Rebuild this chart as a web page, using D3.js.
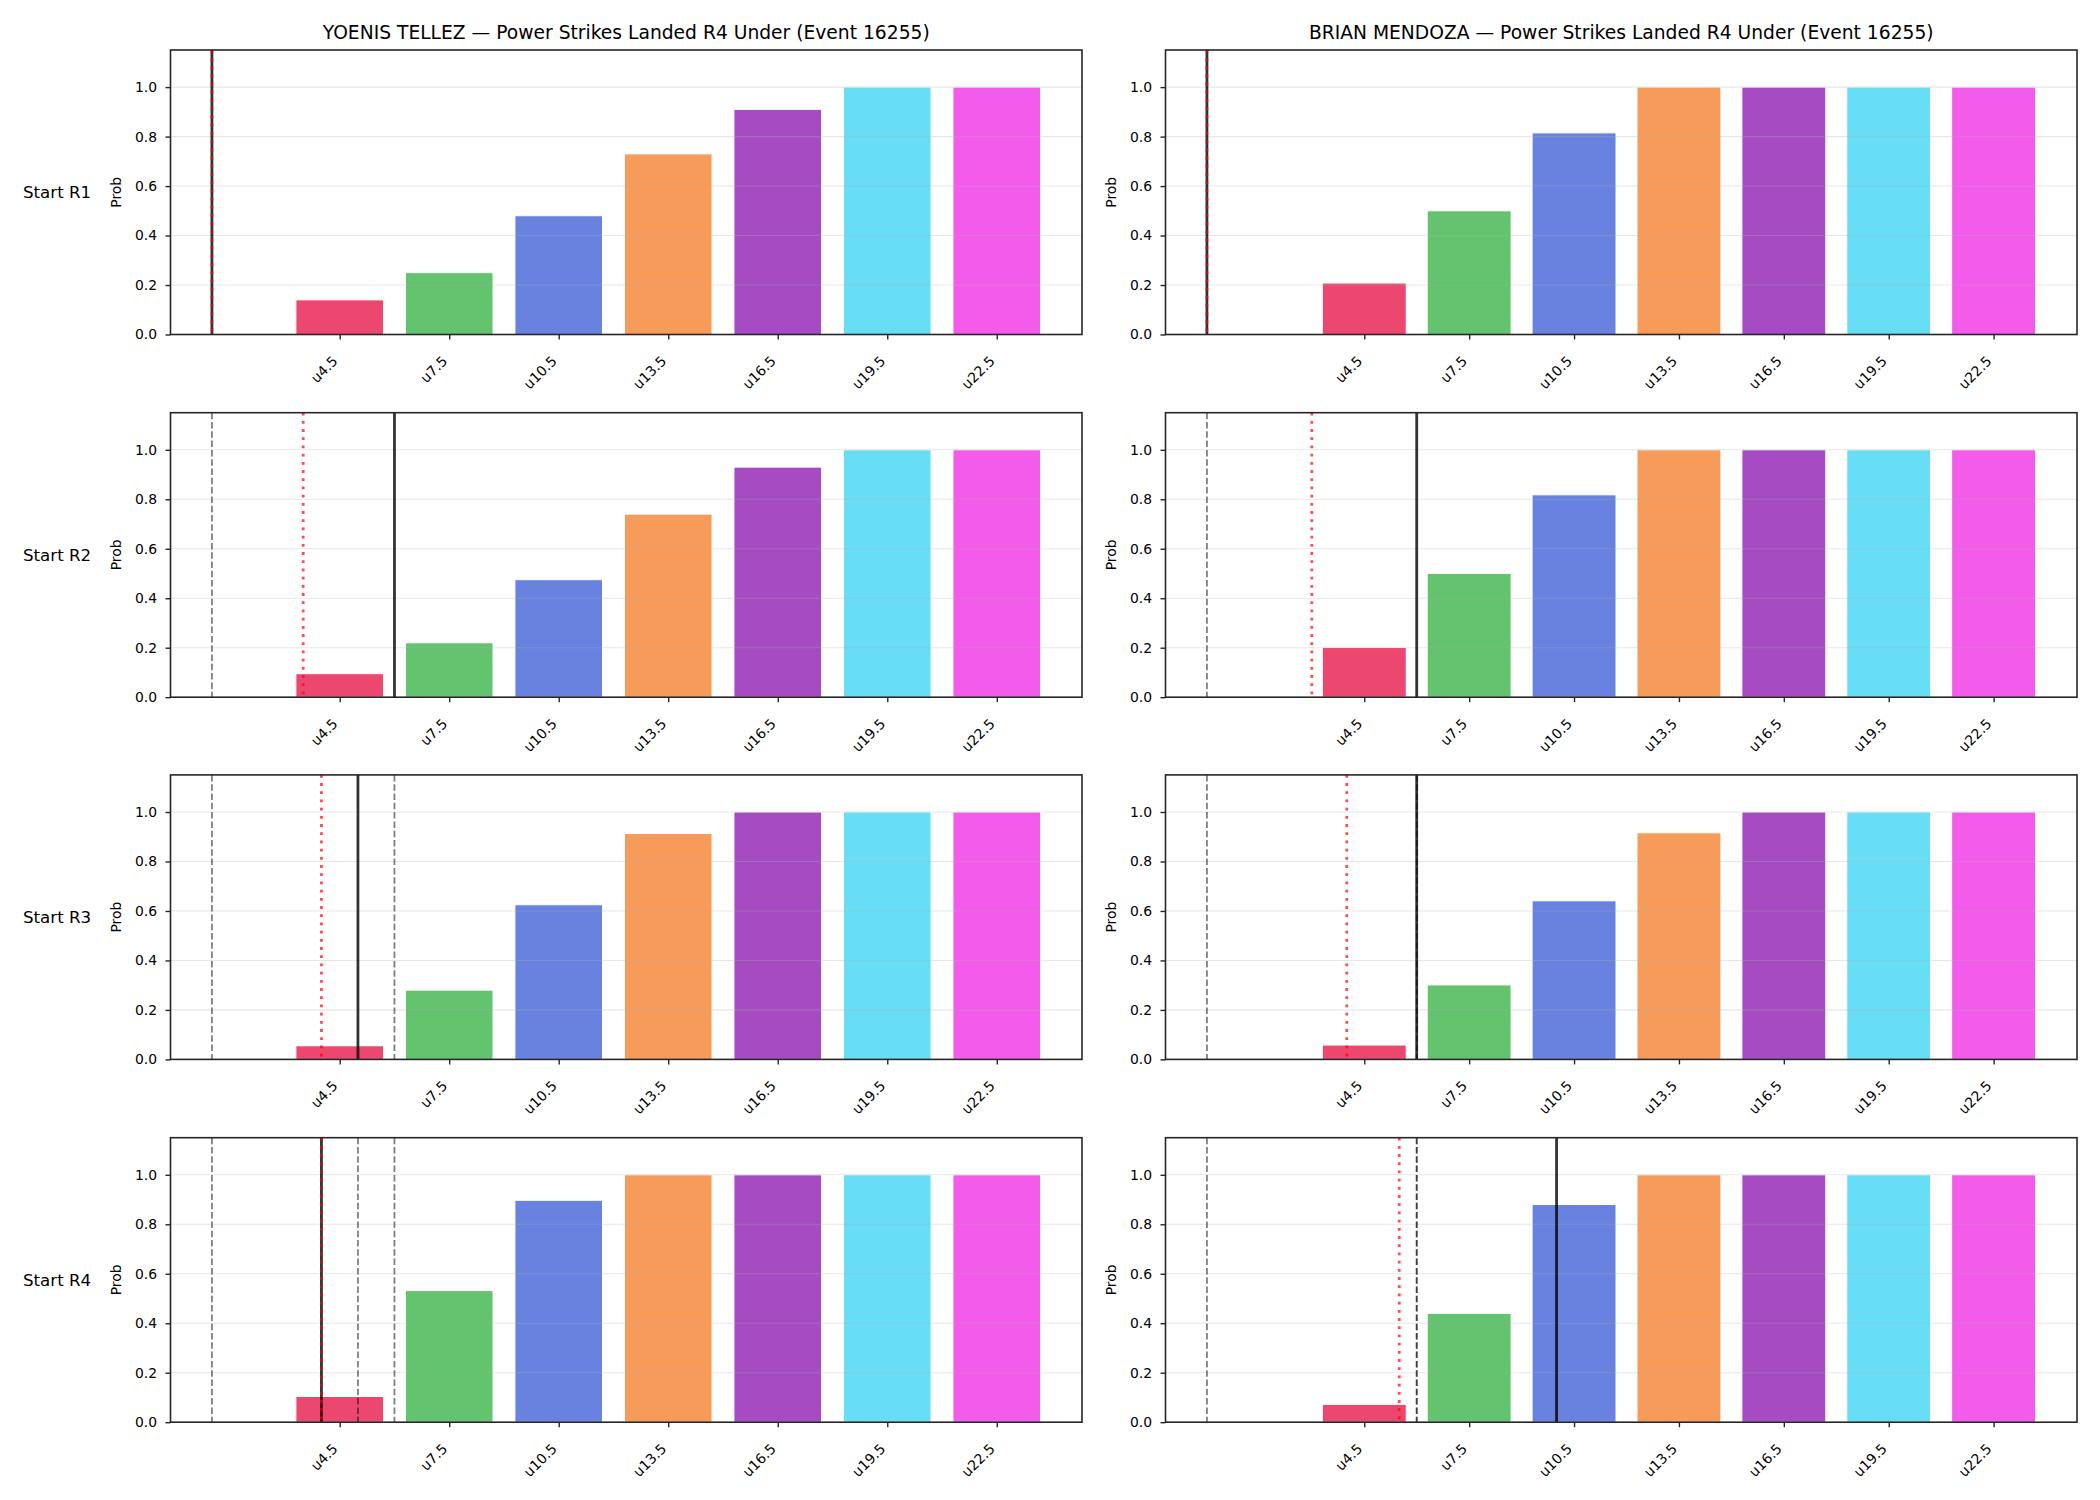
<!DOCTYPE html>
<html>
<head>
<meta charset="utf-8">
<script src="https://cdn.jsdelivr.net/npm/d3@7/dist/d3.min.js"></script>
<style>
  body { margin: 0; background: #fff; }
  text { font-family: "DejaVu Sans", sans-serif; fill: #000; }
</style>
</head>
<body>
<svg id="chart" width="2100" height="1500"></svg>
<script>
// thresholds (bar centres) and their labels
const thresholds = [4.5, 7.5, 10.5, 13.5, 16.5, 19.5, 22.5];
const tickLabels = ["u4.5", "u7.5", "u10.5", "u13.5", "u16.5", "u19.5", "u22.5"];
const barColors = ["#e6194b", "#3cb44b", "#4363d8", "#f58231", "#911eb4", "#42d4f4", "#f032e6"];

const fighters = ["YOENIS TELLEZ", "BRIAN MENDOZA"];
const rounds = ["Start R1", "Start R2", "Start R3", "Start R4"];

// P(under) per round start, one row per round
const tellezProbs = [
    [0.14, 0.25, 0.48, 0.73, 0.91, 1.0, 1.0],
    [0.095, 0.22, 0.475, 0.74, 0.93, 1.0, 1.0],
    [0.055, 0.28, 0.625, 0.913, 1.0, 1.0, 1.0],
    [0.104, 0.532, 0.897, 1.0, 1.0, 1.0, 1.0]
];
const mendozaProbs = [
    [0.208, 0.5, 0.815, 1.0, 1.0, 1.0, 1.0],
    [0.201, 0.5, 0.818, 1.0, 1.0, 1.0, 1.0],
    [0.058, 0.301, 0.641, 0.916, 1.0, 1.0, 1.0],
    [0.072, 0.44, 0.88, 1.0, 1.0, 1.0, 1.0]
];

// strikes landed per round (solid line) and running average (red dotted)
const tellezLanded = [1, 6, 5, 4];
const tellezAvg = [1, 3.5, 4, 4];
const mendozaLanded = [0, 6, 6, 10];
const mendozaAvg = [0, 3, 4, 5.5];

const probs = [tellezProbs, mendozaProbs];
const landed = [tellezLanded, mendozaLanded];
const avgs = [tellezAvg, mendozaAvg];

const svg = d3.select("#chart");
const colX = [170.5, 1165.5], axW = 911.5;
const rowY = [50, 412.7, 774.9, 1137.7], axH = 284.5;
const barWidth = 2.4;
const yTicks = [0, 0.2, 0.4, 0.6, 0.8, 1.0];

fighters.forEach((name, c) => {
    rounds.forEach((roundLabel, r) => {
        const g = svg.append("g").attr("transform", `translate(${colX[c]},${rowY[r]})`);

        const prev = landed[c].slice(0, r);
        const current = landed[c][r];
        const avg = avgs[c][r];

        // matplotlib-like autoscale with 5% margin
        const lo = d3.min([thresholds[0] - barWidth / 2, current, avg, ...prev]);
        const hi = d3.max([thresholds[thresholds.length - 1] + barWidth / 2, current, avg, ...prev]);
        const pad = (hi - lo) * 0.05;

        const x = d3.scaleLinear().domain([lo - pad, hi + pad]).range([0, axW]);
        const y = d3.scaleLinear().domain([0, 1.15]).range([axH, 0]);

        // bars
        g.selectAll(".bar")
            .data(probs[c][r])
            .enter().append("rect")
            .attr("class", "bar")
            .attr("x", (d, i) => x(thresholds[i] - barWidth / 2))
            .attr("width", (d, i) => x(thresholds[i] + barWidth / 2) - x(thresholds[i] - barWidth / 2))
            .attr("y", d => y(d))
            .attr("height", d => y(0) - y(d))
            .attr("fill", (d, i) => barColors[i])
            .attr("fill-opacity", 0.8)
            .attr("stroke", "#fff")
            .attr("stroke-width", 1);

        // grid (drawn over bars, as matplotlib does by default)
        g.selectAll(".grid")
            .data(yTicks.slice(1))
            .enter().append("line")
            .attr("x1", 0).attr("x2", axW)
            .attr("y1", d => y(d)).attr("y2", d => y(d))
            .attr("stroke", "#b0b0b0")
            .attr("stroke-opacity", 0.3)
            .attr("stroke-width", 1.1);

        // previous rounds
        g.selectAll(".prev")
            .data(prev)
            .enter().append("line")
            .attr("x1", d => x(d)).attr("x2", d => x(d))
            .attr("y1", 0).attr("y2", axH)
            .attr("stroke", "#000")
            .attr("stroke-opacity", 0.5)
            .attr("stroke-width", 1.8)
            .attr("stroke-dasharray", "6.5,2.8");

        // current round
        g.append("line")
            .attr("x1", x(current)).attr("x2", x(current))
            .attr("y1", 0).attr("y2", axH)
            .attr("stroke", "#000")
            .attr("stroke-opacity", 0.8)
            .attr("stroke-width", 2.8);

        // running average
        g.append("line")
            .attr("x1", x(avg)).attr("x2", x(avg))
            .attr("y1", 0).attr("y2", axH)
            .attr("stroke", "red")
            .attr("stroke-opacity", 0.7)
            .attr("stroke-width", 2.8)
            .attr("stroke-dasharray", "2.8,5.4");

        // axes
        const yAxis = g.append("g")
            .call(d3.axisLeft(y).tickValues(yTicks).tickFormat(d3.format(".1f"))
                .tickSize(5).tickPadding(8.5));
        const xAxis = g.append("g")
            .attr("transform", `translate(0,${axH})`)
            .call(d3.axisBottom(x).tickValues(thresholds).tickFormat((d, i) => tickLabels[i])
                .tickSize(5));

        [yAxis, xAxis].forEach(a => {
            a.select(".domain").remove();
            a.selectAll("line").attr("stroke", "#262626").attr("stroke-width", 1.4);
            a.selectAll("text").style("font-size", "13.9px").attr("fill", "#000");
        });

        xAxis.selectAll("text")
            .attr("x", -5)
            .attr("y", 24)
            .attr("dy", "0.35em")
            .attr("text-anchor", "end")
            .attr("transform", "rotate(-45,-5,24)");

        // frame
        g.append("rect")
            .attr("width", axW).attr("height", axH)
            .attr("fill", "none")
            .attr("stroke", "#262626")
            .attr("stroke-width", 1.6);

        g.append("text")
            .attr("transform", `translate(-54,${axH / 2}) rotate(-90)`)
            .attr("dy", "0.35em")
            .attr("text-anchor", "middle")
            .style("font-size", "13.9px")
            .text("Prob");

        if (c === 0) {
            g.append("text")
                .attr("x", 23 - colX[0])
                .attr("y", axH / 2)
                .attr("dy", "0.35em")
                .style("font-size", "16.67px")
                .text(roundLabel);
        }

        if (r === 0) {
            g.append("text")
                .attr("x", axW / 2)
                .attr("y", -11.5)
                .attr("text-anchor", "middle")
                .style("font-size", "18.7px")
                .text(`${name} — Power Strikes Landed R4 Under (Event 16255)`);
        }
    });
});
</script>
</body>
</html>
